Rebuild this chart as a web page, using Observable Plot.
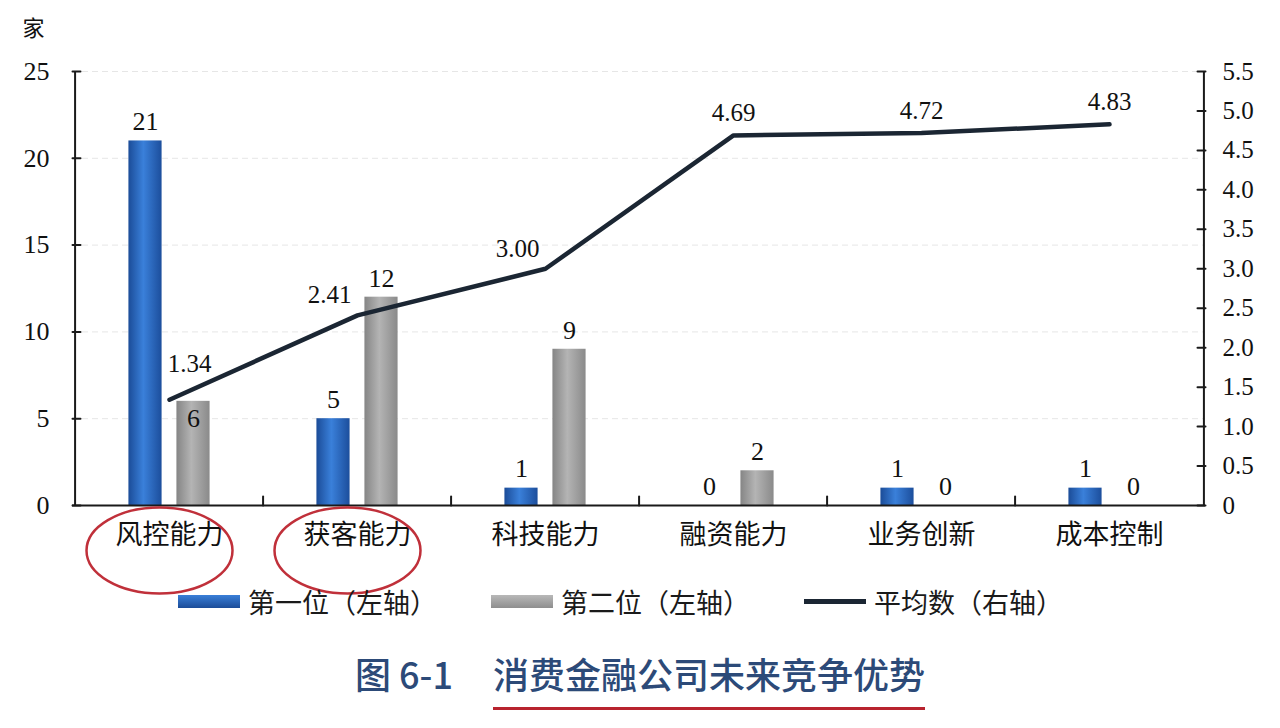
<!DOCTYPE html>
<html>
<head>
<meta charset="utf-8">
<script src="https://cdn.jsdelivr.net/npm/d3@7"></script>
<script src="https://cdn.jsdelivr.net/npm/@observablehq/plot@0.6"></script>
<style>
  html, body { margin: 0; padding: 0; background: #fff; }
  body { width: 1280px; height: 728px; overflow: hidden; font-family: "Liberation Serif", "Noto Sans CJK SC", serif; }
  #legend { display: flex; align-items: center; height: 40px; margin-top: 16px; padding-left: 178px; font-family: "Noto Sans CJK SC", sans-serif; font-size: 27px; color: #1a1a1a; }
  .item { display: flex; align-items: center; margin-right: 54px; }
  .sw { width: 62px; margin-right: 8px; }
  #caption { text-align: center; margin-top: 26px; font-family: "Noto Sans CJK SC", sans-serif; font-size: 36px; font-weight: 500; color: #2c4a78; padding-left: 0px; }
  #caption .main { display: inline-block; margin-left: 40px; padding-bottom: 8px; border-bottom: 3px solid #b8232e; }
</style>
</head>
<body>
<div id="chart"></div>
<div id="legend"></div>
<div id="caption"></div>
<script>
// ---- data ----
const categories = ["风控能力", "获客能力", "科技能力", "融资能力", "业务创新", "成本控制"];
const firstPlace = [21, 5, 1, 0, 1, 1];        // 第一位（左轴）
const secondPlace = [6, 12, 9, 2, 0, 0];       // 第二位（左轴）
const averageRank = [1.34, 2.41, 3.00, 4.69, 4.72, 4.83]; // 平均数（右轴）
const leftTicks = [0, 5, 10, 15, 20, 25];
const rightTicks = [0, 0.5, 1.0, 1.5, 2.0, 2.5, 3.0, 3.5, 4.0, 4.5, 5.0, 5.5];
const seriesNames = ["第一位（左轴）", "第二位（左轴）", "平均数（右轴）"];
const highlighted = ["风控能力", "获客能力"];
const unitLabel = "家";
const figureNo = "图 6-1";
const figureTitle = "消费金融公司未来竞争优势";

// ---- layout ----
const W = 1280, H = 565, mL = 72, mR = 75, mT = 71, mB = 60;
const bw = (W - mL - mR) / categories.length;
const barW = 34, barOff = 24;
const inset = (bw - barW) / 2;
const leftMax = 25, rightMax = 5.5;
const toLeft = v => v * leftMax / rightMax;

const first = categories.map((c, i) => ({cat: c, v: firstPlace[i]}));
const second = categories.map((c, i) => ({cat: c, v: secondPlace[i]}));
const avg = categories.map((c, i) => ({cat: c, v: averageRank[i], i}));

const numFont = "Liberation Serif";
const cjkFont = "Noto Sans CJK SC";
const tickShape = {draw(ctx, l) { ctx.moveTo(0, 0); ctx.lineTo(0, -l); }};
const ellipseSym = {draw(ctx) {
  const rx = 73, ry = 43, k = 0.5523;
  ctx.moveTo(rx, 0);
  ctx.bezierCurveTo(rx, ry * k, rx * k, ry, 0, ry);
  ctx.bezierCurveTo(-rx * k, ry, -rx, ry * k, -rx, 0);
  ctx.bezierCurveTo(-rx, -ry * k, -rx * k, -ry, 0, -ry);
  ctx.bezierCurveTo(rx * k, -ry, rx, -ry * k, rx, 0);
  ctx.closePath();
}};

const chart = Plot.plot({
  width: W, height: H,
  marginLeft: mL, marginRight: mR, marginTop: mT, marginBottom: mB,
  style: {fontFamily: numFont, background: "white", overflow: "visible"},
  x: {type: "band", domain: categories, padding: 0, axis: null},
  y: {domain: [0, leftMax], axis: null},
  marks: [
    // faint gridlines
    Plot.ruleY(leftTicks.filter(d => d > 0), {y: d => d, stroke: "#e6e6e6", strokeWidth: 1, strokeDasharray: "6,4"}),
    // bars
    Plot.barY(first, {x: "cat", y: "v", fill: "url(#gBlue)", insetLeft: inset, insetRight: inset, dx: -barOff}),
    Plot.barY(second, {x: "cat", y: "v", fill: "url(#gGray)", insetLeft: inset, insetRight: inset, dx: barOff}),
    // axes lines
    Plot.ruleY([0], {stroke: "#1a1a1a", strokeWidth: 2}),
    Plot.ruleX([categories[0]], {x: d => d, dx: -bw / 2, stroke: "#1a1a1a", strokeWidth: 2}),
    Plot.ruleX([categories[categories.length - 1]], {x: d => d, dx: bw / 2, stroke: "#1a1a1a", strokeWidth: 2}),
    // inward ticks
    Plot.vector(leftTicks, {y: d => d, frameAnchor: "left", rotate: 90, length: 8, anchor: "start", shape: tickShape, stroke: "#1a1a1a", strokeWidth: 2}),
    Plot.vector(rightTicks, {y: d => toLeft(d), frameAnchor: "right", rotate: -90, length: 8, anchor: "start", shape: tickShape, stroke: "#1a1a1a", strokeWidth: 2}),
    Plot.vector(categories.slice(1), {x: d => d, dx: -bw / 2, frameAnchor: "bottom", rotate: 0, length: 9, anchor: "start", shape: tickShape, stroke: "#1a1a1a", strokeWidth: 2}),
    // tick labels
    Plot.text(leftTicks, {y: d => d, frameAnchor: "left", dx: -23, textAnchor: "end", text: d => String(d), fontSize: 26, fontFamily: numFont, fill: "#111"}),
    Plot.text(rightTicks, {y: d => toLeft(d), frameAnchor: "right", dx: 17, textAnchor: "start", text: d => d === 0 ? "0" : d.toFixed(1), fontSize: 25, fontFamily: numFont, fill: "#111"}),
    Plot.text(categories, {x: d => d, frameAnchor: "bottom", dy: 38, text: d => d, fontSize: 27, fill: "#111", fontFamily: cjkFont}),
    Plot.text([unitLabel], {frameAnchor: "top-left", dx: -50, dy: -51, text: d => d, fontSize: 22, fill: "#111", fontFamily: cjkFont}),
    // average line (right axis)
    Plot.line(avg, {x: "cat", y: d => toLeft(d.v), stroke: "#1b2633", strokeWidth: 4.5, strokeLinejoin: "round", strokeLinecap: "round"}),
    // value labels
    Plot.text(first, {x: "cat", y: "v", dx: -barOff, dy: -19, text: d => String(d.v), fontSize: 26, fontFamily: numFont, fill: "#111"}),
    Plot.text(second.filter(d => d.cat !== categories[0]), {x: "cat", y: "v", dx: barOff, dy: -19, text: d => String(d.v), fontSize: 26, fontFamily: numFont, fill: "#111"}),
    Plot.text(second.filter(d => d.cat === categories[0]), {x: "cat", y: "v", dx: barOff, dy: 17, text: d => String(d.v), fontSize: 26, fontFamily: numFont, fill: "#111"}),
    Plot.text(avg.filter(d => d.i === 0), {x: "cat", y: d => toLeft(d.v), dx: 20, dy: -36, text: d => d.v.toFixed(2), fontSize: 25, fontFamily: numFont, fill: "#111"}),
    Plot.text(avg.filter(d => d.i === 1 || d.i === 2), {x: "cat", y: d => toLeft(d.v), dx: -28, dy: -20, text: d => d.v.toFixed(2), fontSize: 25, fontFamily: numFont, fill: "#111"}),
    Plot.text(avg.filter(d => d.i >= 3), {x: "cat", y: d => toLeft(d.v), dx: 0, dy: -22, text: d => d.v.toFixed(2), fontSize: 25, fontFamily: numFont, fill: "#111"}),
    // hand-drawn highlight rings
    Plot.dot(highlighted, {x: d => d, frameAnchor: "bottom", dx: -10, dy: 45, r: 10, symbol: ellipseSym, fill: "none", stroke: "#c0303a", strokeWidth: 2.5})
  ]
});

d3.select(chart).insert("defs", ":first-child").html(`
  <linearGradient id="gBlue" x1="0" x2="1" y1="0" y2="0">
    <stop offset="0" stop-color="#1b4c98"/>
    <stop offset="0.45" stop-color="#3a80da"/>
    <stop offset="1" stop-color="#1c4e9c"/>
  </linearGradient>
  <linearGradient id="gGray" x1="0" x2="1" y1="0" y2="0">
    <stop offset="0" stop-color="#858585"/>
    <stop offset="0.45" stop-color="#b4b4b4"/>
    <stop offset="1" stop-color="#8a8a8a"/>
  </linearGradient>`);
document.getElementById("chart").appendChild(chart);

// legend
const swatchStyles = [
  "background: linear-gradient(#3a7fd8, #1b4c98); height: 13px;",
  "background: linear-gradient(#b8b8b8, #8e8e8e); height: 13px;",
  "background: #1b2633; height: 5px;"
];
const legend = document.getElementById("legend");
seriesNames.forEach((name, i) => {
  const item = document.createElement("div");
  item.className = "item";
  item.innerHTML = `<div class="sw" style="${swatchStyles[i]}"></div><span>${name}</span>`;
  legend.appendChild(item);
});

// caption
document.getElementById("caption").innerHTML = `<span>${figureNo}</span><span class="main">${figureTitle}</span>`;
</script>
</body>
</html>
